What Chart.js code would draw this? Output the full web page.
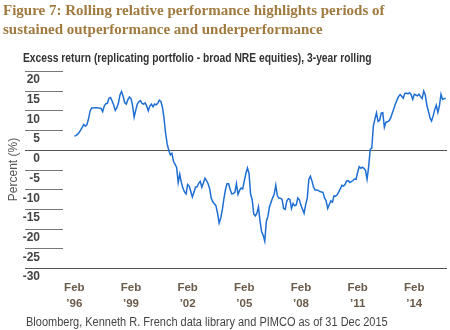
<!DOCTYPE html>
<html>
<head>
<meta charset="utf-8">
<script src="https://cdn.jsdelivr.net/npm/chart.js@4.4.1/dist/chart.umd.min.js"></script>
<style>
  html, body { margin: 0; padding: 0; background: #fff; }
  #wrap { position: relative; width: 450px; height: 330px; overflow: hidden; }
  #chart { position: absolute; left: 0; top: 0; }
  .txt { position: absolute; white-space: nowrap; transform-origin: 0 0; }
  #title { left: 3px; top: 1px; font: bold 15px "Liberation Serif", serif; line-height: 19px; color: #a07a3e; }
  #subtitle { left: 23px; top: 51px; font: bold 12px "Liberation Sans", sans-serif; color: #333; transform: scaleX(0.857); }
  #source { left: 26px; top: 315px; font: 12px "Liberation Sans", sans-serif; color: #444; transform: scaleX(0.916); }
</style>
</head>
<body>
<div id="wrap">
  <canvas id="chart" width="450" height="330"></canvas>
  <div id="title" class="txt">Figure 7: Rolling relative performance highlights periods of<br>sustained outperformance and underperformance</div>
  <div id="subtitle" class="txt">Excess return (replicating portfolio - broad NRE equities), 3-year rolling</div>
  <div id="source" class="txt">Bloomberg, Kenneth R. French data library and PIMCO as of 31 Dec 2015</div>
</div>
<script>
// monthly points, Feb 1996 onwards
const excessReturn = [
  3.5, 3.6, 3.9, 4.4, 5.0, 5.7, 6.4, 6.0, 6.4, 7.8,
  9.8, 10.6, 10.6, 10.7, 10.7, 10.6, 10.6, 10.5, 9.7, 11.1,
  11.7, 11.8, 13.1, 13.3, 12.4, 11.4, 10.0, 10.7, 11.8, 13.9,
  14.8, 13.6, 12.0, 11.6, 12.7, 13.4, 13.0, 11.3, 8.3, 10.0,
  11.6, 12.2, 12.5, 11.8, 11.6, 11.9, 11.1, 9.9, 11.1, 11.6,
  10.9, 11.6, 11.4, 11.8, 12.6, 12.3, 10.8, 8.0, 4.2, 1.5,
  -0.1, -1.3, -0.9, -2.9, -3.7, -4.5, -8.3, -6.2, -8.3, -9.7,
  -10.7, -11.2, -8.8, -9.2, -10.6, -12.0, -10.8, -9.5, -9.4, -8.5,
  -8.0, -9.5, -8.4, -7.2, -7.8, -8.6, -9.9, -12.3, -13.2, -13.7,
  -14.2, -16.1, -18.6, -17.4, -15.3, -12.5, -10.2, -8.6, -8.6, -10.0,
  -11.2, -11.1, -10.8, -8.6, -11.3, -10.3, -9.7, -9.9, -7.9, -6.0,
  -4.6, -6.0, -11.3, -12.6, -16.3, -16.8, -16.1, -14.5, -18.1, -20.8,
  -21.7, -23.2, -18.2, -16.9, -14.5, -13.3, -12.2, -11.3, -9.0, -11.6,
  -12.3, -12.3, -12.6, -14.9, -15.1, -13.0, -12.4, -12.6, -14.9, -13.6,
  -14.2, -14.0, -12.2, -12.7, -14.1, -15.1, -16.1, -13.9, -12.3, -7.5,
  -6.7, -7.9, -9.5, -10.2, -10.2, -10.3, -10.6, -10.7, -10.8, -12.2,
  -13.0, -14.9, -13.9, -13.0, -13.3, -11.7, -11.8, -11.4, -10.7, -9.9,
  -9.0, -9.2, -8.8, -7.9, -7.8, -8.3, -8.1, -7.8, -7.4, -7.5,
  -5.7, -4.3, -4.7, -4.4, -4.7, -5.2, -7.5, -4.4, 0.1, 0.4,
  6.0, 7.8, 9.4, 7.2, 7.5, 9.3, 9.4, 5.7, 7.0, 7.1,
  7.4, 8.1, 9.3, 10.4, 11.6, 12.6, 13.5, 14.0, 13.6, 13.1,
  14.3, 14.4, 14.2, 14.5, 14.0, 12.8, 14.1, 13.9, 13.7, 14.1,
  13.5, 13.0, 14.9, 13.9, 11.3, 9.8, 8.1, 7.3, 8.6, 10.2,
  11.3, 9.5, 11.2, 14.1, 12.8, 13.0, 13.0
];

// month index of each x tick (every 3 years from Feb '96)
const xTickIndex = [0, 36, 72, 108, 144, 180, 216];
const xTickLabels = [
  ['Feb', '\u201996'], ['Feb', '\u201999'], ['Feb', '\u201902'], ['Feb', '\u201905'],
  ['Feb', '\u201908'], ['Feb', '\u201911'], ['Feb', '\u201914']
];

const yMin = -30, yMax = 20, yStep = 5;
const fullLines = [0, -30];

const sans = '"Liberation Sans", sans-serif';

// short tick marks left of the plot, plus full lines at 0 and -30
const yRules = {
  id: 'yRules',
  beforeDatasetsDraw(chart) {
    const { ctx, chartArea, scales: { y } } = chart;
    ctx.save();
    ctx.lineWidth = 1;
    y.ticks.forEach(t => {
      const py = Math.round(y.getPixelForValue(t.value)) + 0.5;
      const full = fullLines.includes(t.value);
      ctx.strokeStyle = full ? '#555' : '#777';
      ctx.beginPath();
      ctx.moveTo(chartArea.left - 38, py);
      ctx.lineTo(full ? chartArea.right : chartArea.left, py);
      ctx.stroke();
    });
    ctx.restore();
  }
};

new Chart(document.getElementById('chart'), {
  type: 'line',
  data: {
    datasets: [{
      data: excessReturn.map((v, i) => ({ x: i, y: v })),
      borderColor: '#1f6fd3',
      borderWidth: 1.5,
      pointRadius: 0,
      tension: 0,
      fill: false
    }]
  },
  options: {
    responsive: false,
    animation: false,
    events: [],
    layout: { padding: { left: 6, right: 3, top: 71, bottom: 0 } },
    plugins: { legend: { display: false }, tooltip: { enabled: false } },
    scales: {
      x: {
        type: 'linear',
        min: -7.2,
        max: 236.8,
        border: { display: false },
        grid: { display: false, drawTicks: false },
        afterBuildTicks: (scale) => { scale.ticks = xTickIndex.map(v => ({ value: v })); },
        afterFit: (scale) => { scale.height = 62; },
        ticks: {
          autoSkip: false,
          maxRotation: 0,
          padding: 12,
          color: '#6a5a4a',
          font: { family: sans, size: 11.5, weight: 'bold', lineHeight: 1.38 },
          callback: (value) => {
            const k = xTickIndex.indexOf(value);
            return k >= 0 ? xTickLabels[k] : '';
          }
        }
      },
      y: {
        min: yMin,
        max: yMax,
        border: { display: false },
        afterFit: (scale) => { scale.width = 57; },
        grid: { display: false, drawTicks: false },
        ticks: {
          stepSize: yStep,
          padding: 23,
          labelOffset: 9,
          color: '#444',
          font: { family: sans, size: 12, weight: 'bold' }
        },
        title: {
          display: true,
          text: 'Percent (%)',
          color: '#555',
          padding: 0,
          font: { family: sans, size: 12 }
        }
      }
    }
  },
  plugins: [yRules]
});
</script>
</body>
</html>
